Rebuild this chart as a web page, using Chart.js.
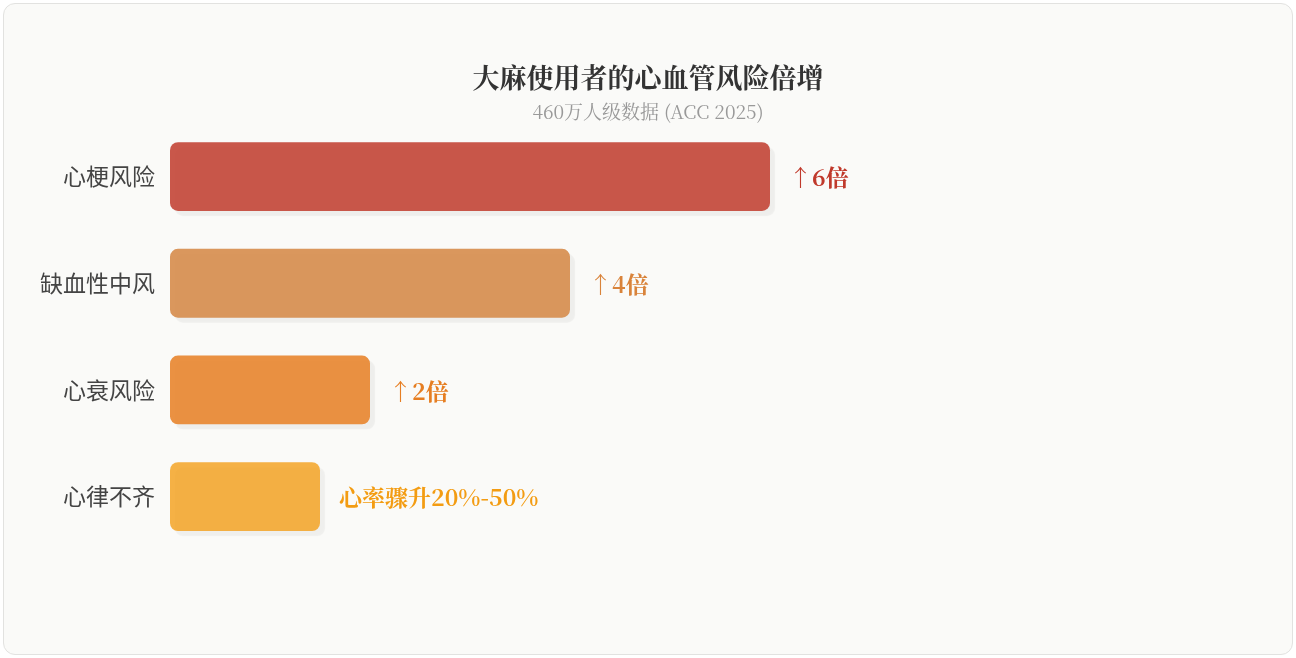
<!DOCTYPE html>
<html>
<head>
<meta charset="utf-8">
<script src="https://cdn.jsdelivr.net/npm/chart.js@4.4.1/dist/chart.umd.min.js"></script>
<style>
  html, body { margin: 0; padding: 0; background: #ffffff; }
  #card {
    position: absolute; left: 3px; top: 3px; width: 1288px; height: 650px;
    border: 1px solid #e2e2e0; border-radius: 12px; background: #fafaf8;
  }
  #wrap { position: absolute; left: 0; top: 0; width: 1288px; height: 650px; }
</style>
</head>
<body>
<div id="card"><div id="wrap"><canvas id="c"></canvas></div></div>
<script>
const categories = ['心梗风险', '缺血性中风', '心衰风险', '心律不齐'];
const values = [6, 4, 2, 1.5];
const valueLabels = ['↑6倍', '↑4倍', '↑2倍', '心率骤升20%-50%'];
const barColors = ['rgba(192,57,43,0.85)', 'rgba(211,133,66,0.85)', 'rgba(230,126,34,0.85)', 'rgba(243,156,18,0.78)'];
const labelColors = ['#c0392b', '#d9833a', '#e67e22', '#f39c12'];
const titleText = '大麻使用者的心血管风险倍增';
const subtitleText = '460万人级数据 (ACC 2025)';

const serif = '"Noto Serif CJK SC", serif';
const sans = '"Noto Sans CJK SC", "Noto Sans", sans-serif';

const shadowPlugin = {
  id: 'barShadow',
  beforeDatasetDraw(chart) {
    const ctx = chart.ctx;
    ctx.save();
    ctx.shadowColor = 'rgba(0,0,0,0.055)';
    ctx.shadowBlur = 1;
    ctx.shadowOffsetX = 5;
    ctx.shadowOffsetY = 5;
  },
  afterDatasetDraw(chart) {
    chart.ctx.restore();
  }
};

const valueLabelPlugin = {
  id: 'valueLabels',
  afterDatasetsDraw(chart) {
    const ctx = chart.ctx;
    const meta = chart.getDatasetMeta(0);
    ctx.save();
    ctx.textAlign = 'left';
    ctx.textBaseline = 'middle';
    meta.data.forEach((bar, i) => {
      ctx.fillStyle = labelColors[i];
      ctx.font = 'bold 23px ' + serif;
      ctx.fillText(valueLabels[i], bar.x + 19, bar.y + 1);
    });
    ctx.restore();
  }
};

new Chart(document.getElementById('c'), {
  type: 'bar',
  data: {
    labels: categories,
    datasets: [{
      data: values,
      backgroundColor: barColors,
      borderRadius: 8,
      borderSkipped: false,
      barPercentage: 0.645,
      categoryPercentage: 1.0
    }]
  },
  options: {
    indexAxis: 'y',
    responsive: true,
    maintainAspectRatio: false,
    animation: false,
    layout: { padding: { left: 22, right: 22, top: 43, bottom: 104 } },
    plugins: {
      legend: { display: false },
      tooltip: { enabled: false },
      title: {
        display: true,
        text: titleText,
        color: '#333333',
        font: { family: serif, size: 27, weight: 'bold' },
        padding: { top: 15, bottom: 6 }
      },
      subtitle: {
        display: true,
        text: subtitleText,
        color: '#999999',
        font: { family: serif, size: 19 },
        padding: { top: 0, bottom: 0 }
      }
    },
    scales: {
      x: {
        display: false,
        min: 0,
        max: 11
      },
      y: {
        grid: { display: false },
        border: { display: false },
        ticks: {
          color: '#444444',
          font: { family: sans, size: 23 },
          padding: 7
        },
        afterFit(scale) { scale.width = 144; }
      }
    }
  },
  plugins: [shadowPlugin, valueLabelPlugin]
});
</script>
</body>
</html>
